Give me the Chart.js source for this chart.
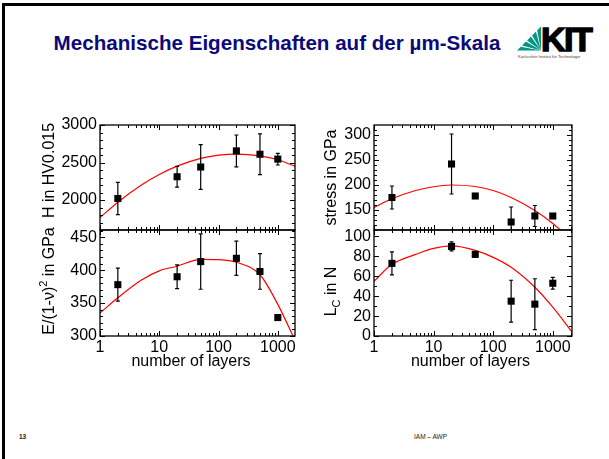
<!DOCTYPE html>
<html>
<head>
<meta charset="utf-8">
<script src="https://cdn.jsdelivr.net/npm/chart.js@4.4.1/dist/chart.umd.min.js"></script>
<style>
  html, body { margin: 0; padding: 0; background: #fff; width: 609px; height: 459px; overflow: hidden;
    font-family: "Liberation Sans", Arial, Helvetica, sans-serif; }
  .slide-frame { position: absolute; left: 2px; top: 3px; width: 800px; height: 700px;
    border-left: 3px solid #000; border-top: 3px solid #000; }
  canvas.panel { position: absolute; left: 0; top: 0; }
  #title { position: absolute; left: 0; top: 31px; width: 554px; text-align: center; font-weight: bold;
    font-size: 20.6px; line-height: 24px; color: #0a0a78; white-space: nowrap; }
  #logo { position: absolute; left: 0; top: 0; }
  .foot { position: absolute; top: 433px; font-size: 6.5px; line-height: 8px; color: #222; }
</style>
</head>
<body>
<div class="slide-frame"></div>
<div id="title">Mechanische Eigenschaften auf der µm-Skala</div>
<svg id="logo" width="609" height="70" viewBox="0 0 609 70">
  <g fill="#009682">
    <polygon points="541,50.5 517,50.5 520.8,46.7"/>
    <polygon points="541,50.5 522.0,45.5 525.9,41.6"/>
    <polygon points="541,50.5 527.1,40.4 530.9,36.6"/>
    <polygon points="541,50.5 532.1,35.4 535.9,31.6"/>
    <polygon points="541,50.5 537.2,30.3 541,26.5"/>
  </g>
  <text x="541" y="51" font-family="Liberation Sans, Arial, sans-serif" font-weight="bold" font-size="34"
        letter-spacing="-1.5" fill="#000" stroke="#000" stroke-width="1.4">KIT</text>
  <text x="518" y="57.5" font-family="Liberation Sans, Arial, sans-serif" font-size="4.2" fill="#444">Karlsruher Institut für Technologie</text>
</svg>
<div class="foot" style="left:19px;font-weight:bold;">13</div>
<div class="foot" style="left:414px;">IAM – AWP</div>

<script>
// Multilayer samples: number of layers and measured properties (mean and error)
const layers = [2, 20, 50, 200, 500, 1000];

const hardness    = [2020, 2310, 2440, 2655, 2610, 2545];
const hardnessErr = [215, 138, 298, 212, 272, 78];

const modulus    = [378, 390, 413, 418, 398, 328];
const modulusErr = [25, 18, 42, 26, 27, 3];

const stress    = [174, 241, 177, 125, 137, 137];
const stressErr = [23, 60, 4, 30, 21, 3];

const critLoad    = [73, 90, 82, 35, 32, 53];
const critLoadErr = [11.5, 4.5, 2.5, 21, 25.5, 6];

// Fit curves sampled along the layer axis
const fitLayers   = [1, 2, 5, 10, 20, 50, 100, 200, 500, 1000, 2100];
const hardnessFit = [1765, 1971, 2200, 2340, 2451, 2554, 2598, 2613, 2589, 2537, 2440];
const modulusFit  = [335, 358, 385, 399, 406, 416.5, 416, 412, 393, 348, 287];
const stressFit   = [154, 171.5, 188, 195.5, 199, 196, 188, 174, 148, 122, 88];
const critLoadFit = [55, 72, 82, 88, 90.5, 86, 79, 69, 49, 29, 4];

// Tick labels
const xTicks        = [1, 10, 100, 1000];
const hardnessTicks = [2000, 2500, 3000];
const modulusTicks  = [300, 350, 400, 450];
const stressTicks   = [150, 200, 250, 300];
const critLoadTicks = [0, 20, 40, 60, 80, 100];

const FONT = '"Liberation Sans", Arial, Helvetica, sans-serif';
Chart.defaults.font.family = FONT;
Chart.defaults.color = '#000';

const W = 609, H = 459, X_AXIS_H = 24;

// Frame, inward tick marks, error bars and axis titles
const panelPlugin = {
  id: 'panelDecor',
  afterDatasetsDraw(chart, args, opts) {
    const { ctx, chartArea: a } = chart;
    const ys = chart.scales.y;
    const meta = chart.getDatasetMeta(0);
    const ds = chart.data.datasets[0];
    ctx.save();
    ctx.beginPath();
    ctx.rect(a.left, a.top, a.right - a.left, a.bottom - a.top);
    ctx.clip();
    ctx.strokeStyle = '#000';
    ctx.lineWidth = 1.2;
    ds.data.forEach((p, i) => {
      const e = ds.errors[i];
      const px = meta.data[i].x;
      const y1 = ys.getPixelForValue(p.y + e), y2 = ys.getPixelForValue(p.y - e);
      ctx.beginPath();
      ctx.moveTo(px, y1); ctx.lineTo(px, y2);
      ctx.moveTo(px - 2, y1); ctx.lineTo(px + 2, y1);
      ctx.moveTo(px - 2, y2); ctx.lineTo(px + 2, y2);
      ctx.stroke();
    });
    ctx.restore();
  },
  afterDraw(chart, args, opts) {
    const { ctx, chartArea: a } = chart;
    const xs = chart.scales.x, ys = chart.scales.y;
    ctx.save();
    ctx.strokeStyle = '#000';
    ctx.lineWidth = 1;
    const major = 5, minor = 3;
    ctx.beginPath();
    // x ticks on bottom and top edges (log decades with minor 2..9)
    for (let d = 1; d <= xs.max; d *= 10) {
      for (let k = 1; k <= 9; k++) {
        const v = k * d;
        if (v < xs.min || v > xs.max) continue;
        const px = Math.round(xs.getPixelForValue(v)) + 0.5;
        const len = k === 1 ? major : minor;
        ctx.moveTo(px, a.bottom); ctx.lineTo(px, a.bottom - len);
        ctx.moveTo(px, a.top); ctx.lineTo(px, a.top + len);
      }
    }
    // y ticks on left and right edges
    const step = opts.yMinor;
    for (let v = Math.ceil(ys.min / step) * step; v <= ys.max + 1e-9; v += step) {
      const py = Math.round(ys.getPixelForValue(v)) + 0.5;
      const len = Math.abs(v / opts.yMajor - Math.round(v / opts.yMajor)) < 1e-6 ? major : minor;
      ctx.moveTo(a.left, py); ctx.lineTo(a.left + len, py);
      ctx.moveTo(a.right, py); ctx.lineTo(a.right - len, py);
    }
    ctx.stroke();
    // plot frame
    ctx.lineWidth = 1.3;
    ctx.strokeRect(a.left, a.top, a.right - a.left, a.bottom - a.top);

    ctx.fillStyle = '#000';
    // y axis title, drawn rotated with optional sub/superscripts
    if (opts.yTitle) {
      const segs = opts.yTitle;
      const fontFor = s => (s.sup || s.sub ? '11px ' : '16px ') + FONT;
      let total = 0;
      segs.forEach(s => { ctx.font = fontFor(s); total += ctx.measureText(s.text).width; });
      ctx.translate(opts.yTitlePos.x, opts.yTitlePos.y);
      ctx.rotate(-Math.PI / 2);
      ctx.textBaseline = 'alphabetic';
      ctx.textAlign = 'left';
      let cx = -total / 2;
      segs.forEach(s => {
        ctx.font = fontFor(s);
        const dy = s.sup ? -7 : (s.sub ? 3.5 : 0);
        ctx.fillText(s.text, cx, dy);
        cx += ctx.measureText(s.text).width;
      });
      ctx.setTransform(1, 0, 0, 1, 0, 0);
    }
    if (opts.xTitle) {
      ctx.font = '16px ' + FONT;
      ctx.textAlign = 'center';
      ctx.textBaseline = 'middle';
      ctx.fillText(opts.xTitle, opts.xTitlePos.x, opts.xTitlePos.y);
    }
    ctx.restore();
  }
};

const panels = [
  { xs: layers, ys: hardness, err: hardnessErr, fit: hardnessFit,
    yMin: 1600, yMax: 3000, yTicks: hardnessTicks, yMajor: 500, yMinor: 100, xMax: 1950,
    area: { left: 100, top: 125, right: 295, bottom: 230 }, showX: false,
    yTitle: [{ text: 'H in HV0.015' }], yTitlePos: { x: 53.5, y: 170.5 } },
  { xs: layers, ys: modulus, err: modulusErr, fit: modulusFit,
    yMin: 300, yMax: 461, yTicks: modulusTicks, yMajor: 50, yMinor: 10, xMax: 1950,
    area: { left: 100, top: 230, right: 295, bottom: 336 }, showX: true,
    yTitle: [{ text: 'E/(1-ν)' }, { text: '2', sup: true }, { text: ' in GPa' }], yTitlePos: { x: 53.5, y: 281 },
    xTitle: 'number of layers', xTitlePos: { x: 191, y: 362 } },
  { xs: layers, ys: stress, err: stressErr, fit: stressFit,
    yMin: 109, yMax: 319, yTicks: stressTicks, yMajor: 50, yMinor: 10, xMax: 2100,
    area: { left: 374, top: 125, right: 572, bottom: 230 }, showX: false,
    yTitle: [{ text: 'stress in GPa' }], yTitlePos: { x: 335.5, y: 177.5 } },
  { xs: layers, ys: critLoad, err: critLoadErr, fit: critLoadFit,
    yMin: 0, yMax: 106.5, yTicks: critLoadTicks, yMajor: 20, yMinor: 10, xMax: 2100,
    area: { left: 374, top: 230, right: 572, bottom: 336 }, showX: true,
    yTitle: [{ text: 'L' }, { text: 'C', sub: true }, { text: ' in N' }], yTitlePos: { x: 336, y: 291.5 },
    xTitle: 'number of layers', xTitlePos: { x: 470.5, y: 362 } }
];

panels.forEach(p => {
  const canvas = document.createElement('canvas');
  canvas.className = 'panel';
  canvas.width = W; canvas.height = H;
  document.body.appendChild(canvas);
  const xH = p.showX ? X_AXIS_H : 0;
  new Chart(canvas, {
    type: 'scatter',
    data: {
      datasets: [
        {
          data: p.xs.map((x, i) => ({ x, y: p.ys[i] })),
          errors: p.err,
          pointStyle: 'rect', pointRadius: 5, pointHoverRadius: 5,
          backgroundColor: '#000', borderColor: '#000', borderWidth: 0,
          showLine: false, order: 0
        },
        {
          type: 'line',
          data: fitLayers.map((x, i) => ({ x, y: p.fit[i] })),
          borderColor: '#ff0000', borderWidth: 1.2, pointRadius: 0, fill: false,
          cubicInterpolationMode: 'monotone', order: 1
        }
      ]
    },
    options: {
      responsive: false, animation: false, devicePixelRatio: 1,
      events: [],
      layout: { padding: { left: 0, top: p.area.top, right: W - p.area.right, bottom: H - p.area.bottom - xH } },
      plugins: {
        legend: { display: false }, tooltip: { enabled: false },
        panelDecor: { yMajor: p.yMajor, yMinor: p.yMinor, yTitle: p.yTitle, yTitlePos: p.yTitlePos,
          xTitle: p.xTitle, xTitlePos: p.xTitlePos }
      },
      scales: {
        x: {
          type: 'logarithmic', min: 1, max: p.xMax,
          afterBuildTicks: s => { s.ticks = xTicks.map(v => ({ value: v })); },
          afterFit: s => { s.height = xH; },
          grid: { display: false, drawTicks: false }, border: { display: false },
          ticks: { display: p.showX, padding: 2, maxRotation: 0, autoSkip: false,
            font: { size: 16 }, color: '#000', callback: v => String(v) }
        },
        y: {
          type: 'linear', min: p.yMin, max: p.yMax,
          afterBuildTicks: s => { s.ticks = p.yTicks.map(v => ({ value: v })); },
          afterFit: s => { s.width = p.area.left; },
          grid: { display: false, drawTicks: false }, border: { display: false },
          ticks: { padding: 3, autoSkip: false, font: { size: 16 }, color: '#000', callback: v => String(v) }
        }
      }
    },
    plugins: [panelPlugin]
  });
});
</script>
</body>
</html>
